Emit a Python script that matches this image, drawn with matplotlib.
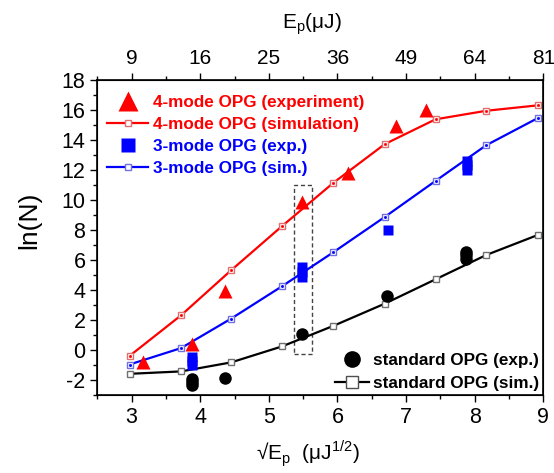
import matplotlib
matplotlib.use('Agg')
import matplotlib.pyplot as plt
from matplotlib.lines import Line2D
from matplotlib.patches import Rectangle

plt.rcParams['font.family'] = ['Liberation Sans', 'DejaVu Sans']
plt.rcParams['axes.unicode_minus'] = False

# simulation grid (sqrt of pump energy)
x_sim = [2.97, 3.72, 4.45, 5.19, 5.94, 6.69, 7.43, 8.17, 8.92]
y4_sim = [-0.4, 2.3, 5.3, 8.23, 11.12, 13.7, 15.35, 15.92, 16.28]
y3_sim = [-0.97, 0.12, 2.08, 4.23, 6.5, 8.85, 11.25, 13.63, 15.43]
ystd_sim = [-1.59, -1.43, -0.83, 0.23, 1.6, 3.08, 4.7, 6.32, 7.65]

# experiment
x4_exp = [3.17, 3.88, 4.36, 5.49, 6.16, 6.86, 7.29]
y4_exp = [-0.8, 0.37, 3.92, 9.85, 11.8, 14.92, 15.97]
x3_exp = [3.88, 3.88, 3.88, 5.49, 5.49, 5.49, 6.73, 7.89, 7.89, 7.89]
y3_exp = [-0.45, -0.75, -1.03, 4.85, 5.2, 5.5, 8.0, 12.0, 12.3, 12.6]
xstd_exp = [3.88, 3.88, 3.88, 4.36, 5.48, 6.72, 7.88, 7.88, 7.88]
ystd_exp = [-1.95, -2.15, -2.35, -1.88, 1.03, 3.57, 6.05, 6.3, 6.55]

top_ticks = [3, 4, 5, 6, 7, 8, 9]
top_labels = ['9', '16', '25', '36', '49', '64', '81']

red = '#ff0000'
blue = '#0000ff'

fig = plt.figure(figsize=(5.54, 4.73), dpi=100)
ax = fig.add_axes([0.1756, 0.1649, 0.805, 0.667])

ax.plot(x_sim, y4_sim, '-', color=red, lw=1.6, marker='s', ms=5, mfc='white', mec='#e07070', mew=1)
ax.plot(x_sim, y3_sim, '-', color=blue, lw=1.6, marker='s', ms=5, mfc='white', mec='#7070e0', mew=1)
ax.plot(x_sim, ystd_sim, '-', color='black', lw=1.6, marker='s', ms=5, mfc='white', mec='#707070', mew=1)
ax.plot(x_sim, y4_sim, 's', color=red, ms=1)
ax.plot(x_sim, y3_sim, 's', color=blue, ms=1)

ax.plot(x4_exp, y4_exp, '^', color=red, ms=10, mec='none')
ax.plot(x3_exp, y3_exp, 's', color=blue, ms=7, mec='none')
ax.plot(xstd_exp, ystd_exp, 'o', color='black', ms=9, mec='none')

ax.add_patch(Rectangle((5.36, -0.3), 0.27, 11.27, fill=False, ls=(0, (3, 2)), lw=1, ec='#444444'))

ax.set_xlim(2.5, 9)
ax.set_ylim(-3, 18)
ax.set_xticks([3, 4, 5, 6, 7, 8, 9])
ax.set_xticks([2.5, 3.5, 4.5, 5.5, 6.5, 7.5, 8.5], minor=True)
ax.set_yticks(range(-2, 19, 2))
ax.set_yticks(range(-3, 18, 2), minor=True)
ax.tick_params(which='major', direction='out', length=5, width=1, labelsize=15.5)
ax.tick_params(which='minor', direction='out', length=3, width=1)
for s in ax.spines.values():
    s.set_linewidth(1.2)

ax2 = ax.twiny()
ax2.set_xlim(2.5, 9)
ax2.set_xticks(top_ticks)
ax2.set_xticklabels(top_labels)
ax2.set_xticks([2.5, 3.5, 4.5, 5.5, 6.5, 7.5, 8.5], minor=True)
ax2.tick_params(which='major', direction='out', length=5, width=1, labelsize=15)
ax2.tick_params(which='minor', direction='out', length=3, width=1)

fig.text(0.052, 0.535, 'ln(N)', rotation=90, ha='center', va='center', fontsize=19)
fig.text(0.556, 0.04, r'√E$_\mathregular{p}$  (μJ$^\mathregular{1/2}$)', ha='center', va='center', fontsize=15)
fig.text(0.563, 0.95, r'E$_\mathregular{p}$(μJ)', ha='center', va='center', fontsize=15)

bold = {'weight': 'bold', 'size': 12.3}
h1 = [Line2D([], [], ls='none', marker='^', color=red, ms=14, mec='none'),
      Line2D([], [], color=red, lw=1.6, marker='s', ms=5, mfc='white', mec='#e07070'),
      Line2D([], [], ls='none', marker='s', color=blue, ms=10, mec='none'),
      Line2D([], [], color=blue, lw=1.6, marker='s', ms=5, mfc='white', mec='#7070e0')]
l1 = ['4-mode OPG (experiment)', '4-mode OPG (simulation)', '3-mode OPG (exp.)', '3-mode OPG (sim.)']
leg1 = ax.legend(h1, l1, loc='upper left', bbox_to_anchor=(0.022, 0.952), frameon=False, prop=bold,
                 labelcolor=[red, red, blue, blue], handlelength=2.4, handletextpad=0.3,
                 labelspacing=0.42, borderpad=0, borderaxespad=0)
ax.add_artist(leg1)

h2 = [Line2D([], [], ls='none', marker='o', color='black', ms=12, mec='none'),
      Line2D([], [], color='black', lw=1.6, marker='s', ms=8, mfc='white', mec='#505050')]
l2 = ['standard OPG (exp.)', 'standard OPG (sim.)']
ax.legend(h2, l2, loc='lower left', bbox_to_anchor=(0.533, 0.012), frameon=False, prop=bold,
          handlelength=2.0, handletextpad=0.25, labelspacing=0.5, borderpad=0, borderaxespad=0)

fig.savefig('out.png', dpi=100)
